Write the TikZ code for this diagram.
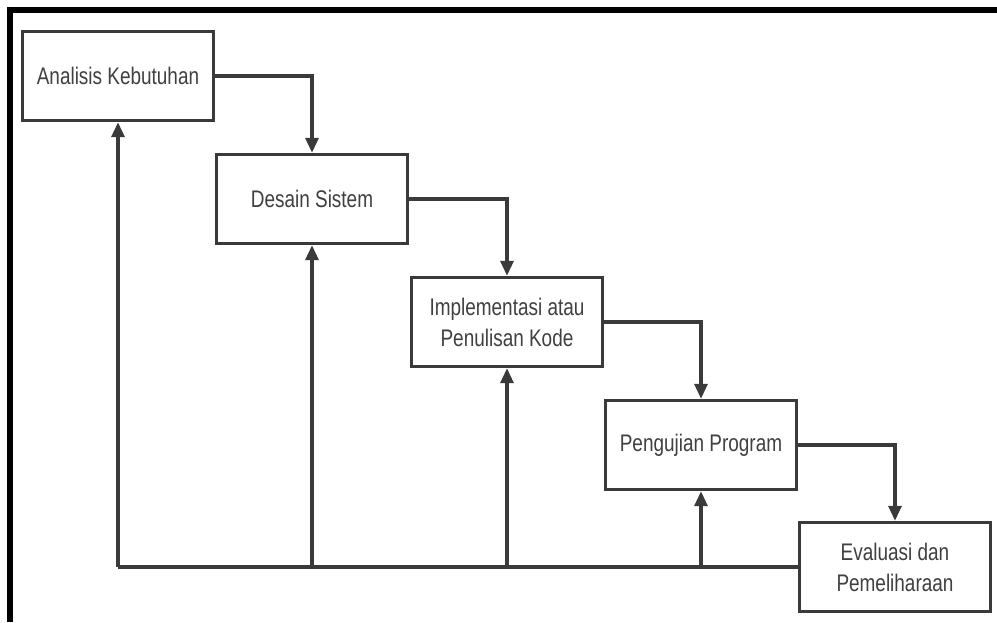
\documentclass[tikz,border=0pt]{standalone}
\usepackage{fontspec}
\setmainfont{Liberation Sans}[FakeStretch=0.79]
\usetikzlibrary{arrows.meta}
\definecolor{ink}{HTML}{3A3A3A}
\definecolor{txt}{HTML}{404040}
\begin{document}
\begin{tikzpicture}[x=1pt,y=-1pt,
  phase/.style={draw=ink, line width=3.4pt, fill=white, rectangle,
    minimum width=191pt, minimum height=89pt, inner sep=0pt,
    align=center, text=txt, font=\fontsize{24}{31}\selectfont},
  flow/.style={draw=ink, line width=3.2pt,
    -{Triangle[length=15pt,width=13pt]}},
  link/.style={draw=ink, line width=3.2pt}]
  \path[use as bounding box] (0,0) rectangle (997,622);
  % outer frame (top and left edges)
  \draw[line width=6pt, black] (10,622) -- (10,10) -- (997,10);

  % phases
  \node[phase] (A) at (118,76)  {Analisis Kebutuhan};
  \node[phase] (D) at (312,199) {Desain Sistem};
  \node[phase] (I) at (507,322) {Implementasi atau\\Penulisan Kode};
  \node[phase] (P) at (701,445) {Pengujian Program};
  \node[phase] (E) at (895,567) {Evaluasi dan\\Pemeliharaan};

  % forward flow
  \draw[flow] (A.east) -| (D.north);
  \draw[flow] (D.east) -| (I.north);
  \draw[flow] (I.east) -| (P.north);
  \draw[flow] (P.east) -| (E.north);

  % feedback line
  \draw[link] (E.west) -- (A.south |- E.west);
  \draw[flow] (A.south |- E.west) -- (A.south);
  \draw[flow] (D.south |- E.west) -- (D.south);
  \draw[flow] (I.south |- E.west) -- (I.south);
  \draw[flow] (P.south |- E.west) -- (P.south);
\end{tikzpicture}
\end{document}
